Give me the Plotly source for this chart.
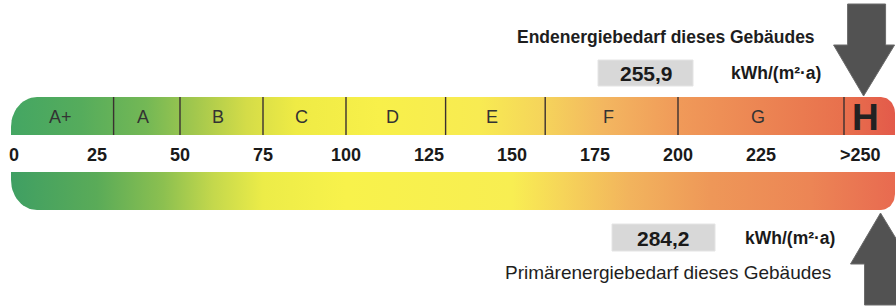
import math
import plotly.graph_objects as go

# ---------------- data ----------------
class_labels = ["A+", "A", "B", "C", "D", "E", "F", "G", "H"]
class_bounds = [0, 30, 50, 75, 100, 130, 160, 200, 250, 266]
tick_values = [0, 25, 50, 75, 100, 125, 150, 175, 200, 225, 255]
tick_labels = ["0", "25", "50", "75", "100", "125", "150", "175", "200", "225", ">250"]
end_energy = 255.9      # Endenergiebedarf
primary_energy = 284.2  # Primärenergiebedarf
unit = "kWh/(m²·a)"
end_title = "Endenergiebedarf dieses Gebäudes"
prim_title = "Primärenergiebedarf dieses Gebäudes"
scale_max_display = 261  # values beyond are drawn at the end of the scale

# ---------------- layout helpers ----------------
W, H = 896, 306
S = 3.32   # px per kWh unit
X0 = 14    # px of value 0
FONT = "Liberation Sans, Arial, sans-serif"


def v_of(px):
    return (px - X0) / S


def px_of(v):
    return X0 + v * S


def rounded_rect(x0, x1, y0, y1, tl=(0, 0), tr=(0, 0), br=(0, 0), bl=(0, 0), n=14):
    pts = []

    def arc(cx, cy, rx, ry, a0, a1):
        for i in range(n + 1):
            a = a0 + (a1 - a0) * i / n
            pts.append((cx + rx * math.cos(a), cy + ry * math.sin(a)))

    if tl[0] > 0:
        arc(x0 + tl[0], y0 + tl[1], tl[0], tl[1], math.pi, 1.5 * math.pi)
    else:
        pts.append((x0, y0))
    if tr[0] > 0:
        arc(x1 - tr[0], y0 + tr[1], tr[0], tr[1], 1.5 * math.pi, 2 * math.pi)
    else:
        pts.append((x1, y0))
    if br[0] > 0:
        arc(x1 - br[0], y1 - br[1], br[0], br[1], 0, 0.5 * math.pi)
    else:
        pts.append((x1, y1))
    if bl[0] > 0:
        arc(x0 + bl[0], y1 - bl[1], bl[0], bl[1], 0.5 * math.pi, math.pi)
    else:
        pts.append((x0, y1))
    pts.append(pts[0])
    xs = [v_of(p[0]) for p in pts]
    ys = [p[1] for p in pts]
    return xs, ys


def cs(stops, vmin, vmax):
    return [[(v - vmin) / (vmax - vmin), c] for v, c in stops]


fig = go.Figure()

bar_left, bar_right = 11, 895
vmin, vmax = v_of(bar_left), v_of(bar_right)

# top bar (Endenergie)
top_stops = [
    (vmin, "#44a663"), (20, "#55ac5c"), (40, "#74b855"), (55, "#a4c84d"),
    (70, "#d4dc48"), (85, "#efeb45"), (110, "#f8f04a"), (140, "#f8eb52"),
    (160, "#f5d35b"), (178, "#f3b660"), (200, "#f09a59"), (225, "#ec8553"),
    (250, "#e8704d"), (vmax, "#e35a4a"),
]
xs, ys = rounded_rect(bar_left, bar_right, 97, 135, tl=(26, 30), tr=(14, 16))
fig.add_trace(go.Scatter(
    x=xs, y=ys, mode="lines", fill="toself", line=dict(width=0),
    fillgradient=dict(type="horizontal", colorscale=cs(top_stops, vmin, vmax),
                      start=vmin, stop=vmax),
    hoverinfo="skip", showlegend=False))

# bottom bar (Primärenergie)
bot_stops = [
    (vmin, "#3f9f63"), (25, "#5aab58"), (45, "#8cc050"), (60, "#c4d84c"),
    (75, "#ecec48"), (100, "#f8f24b"), (150, "#f8ee52"), (165, "#f6d559"),
    (185, "#f2b45d"), (210, "#ee9758"), (240, "#ec8555"), (vmax, "#e86a50"),
]
xs, ys = rounded_rect(bar_left, bar_right, 172, 210, bl=(26, 30), br=(14, 16))
fig.add_trace(go.Scatter(
    x=xs, y=ys, mode="lines", fill="toself", line=dict(width=0),
    fillgradient=dict(type="horizontal", colorscale=cs(bot_stops, vmin, vmax),
                      start=vmin, stop=vmax),
    hoverinfo="skip", showlegend=False))

shapes = []
annotations = []

# class dividers
for b in class_bounds[1:-1]:
    shapes.append(dict(type="line", xref="x", yref="y", x0=b, x1=b, y0=97, y1=135,
                       line=dict(color="#3a3030", width=1.4)))

# class labels
for i, lab in enumerate(class_labels):
    mid = (class_bounds[i] + class_bounds[i + 1]) / 2
    if lab == "H":
        annotations.append(dict(x=mid - 1.5, y=117, xref="x", yref="y", text="<b>H</b>",
                                showarrow=False, font=dict(size=37, color="#222222", family=FONT)))
    else:
        annotations.append(dict(x=mid - 1, y=117, xref="x", yref="y", text=lab,
                                showarrow=False, font=dict(size=18, color="#333333", family=FONT)))

# tick labels
for tv, tl_ in zip(tick_values, tick_labels):
    annotations.append(dict(x=tv, y=155, xref="x", yref="y", text="<b>%s</b>" % tl_,
                            showarrow=False, font=dict(size=18, color="#1a1a1a", family=FONT)))

# titles
annotations.append(dict(x=v_of(666), y=37, xref="x", yref="y", text="<b>%s</b>" % end_title,
                        showarrow=False, font=dict(size=17.5, color="#1e1e1e", family=FONT)))
annotations.append(dict(x=v_of(668), y=272, xref="x", yref="y", text=prim_title,
                        showarrow=False, font=dict(size=19, color="#1e1e1e", family=FONT)))


def fmt(v):
    return ("%.1f" % v).replace(".", ",")


# value boxes
shapes.append(dict(type="rect", xref="x", yref="y", x0=v_of(598), x1=v_of(693), y0=60, y1=86,
                   fillcolor="#d8d8d8", line=dict(color="#e4e4e4", width=1)))
shapes.append(dict(type="rect", xref="x", yref="y", x0=v_of(612), x1=v_of(715), y0=224, y1=251,
                   fillcolor="#d8d8d8", line=dict(color="#e4e4e4", width=1)))
annotations.append(dict(x=v_of(646), y=73, xref="x", yref="y", text="<b>%s</b>" % fmt(end_energy),
                        showarrow=False, font=dict(size=21, color="#1a1a1a", family=FONT)))
annotations.append(dict(x=v_of(663), y=238, xref="x", yref="y", text="<b>%s</b>" % fmt(primary_energy),
                        showarrow=False, font=dict(size=21, color="#1a1a1a", family=FONT)))
annotations.append(dict(x=v_of(776), y=73, xref="x", yref="y", text="<b>%s</b>" % unit,
                        showarrow=False, font=dict(size=17.5, color="#1a1a1a", family=FONT)))
annotations.append(dict(x=v_of(790), y=238, xref="x", yref="y", text="<b>%s</b>" % unit,
                        showarrow=False, font=dict(size=17.5, color="#1a1a1a", family=FONT)))


# arrows (pixel offsets relative to the tip)
def arrow(tip_v, tip_y, direction):
    tx = px_of(min(tip_v, scale_max_display))
    d = direction  # +1 pointing down, -1 pointing up
    pts = [(0, 0), (-30, -51), (-16, -51), (-16, -92), (22, -92), (22, -51), (31, -51), (0, 0)]
    xs = [v_of(tx + dx) for dx, dy in pts]
    ys = [tip_y + dy * d for dx, dy in pts]
    return xs, ys


xs, ys = arrow(end_energy, 96, 1)
fig.add_trace(go.Scatter(x=xs, y=ys, mode="lines", fill="toself",
                         fillcolor="#525252", line=dict(color="#6a6a6a", width=1),
                         hoverinfo="skip", showlegend=False))
xs, ys = arrow(primary_energy, 213, -1)
fig.add_trace(go.Scatter(x=xs, y=ys, mode="lines", fill="toself",
                         fillcolor="#525252", line=dict(color="#6a6a6a", width=1),
                         hoverinfo="skip", showlegend=False))

fig.update_layout(
    width=W, height=H,
    margin=dict(l=0, r=0, t=0, b=0),
    paper_bgcolor="white", plot_bgcolor="white",
    shapes=shapes, annotations=annotations,
    xaxis=dict(range=[v_of(0), v_of(W)], visible=False, fixedrange=True),
    yaxis=dict(range=[H, 0], visible=False, fixedrange=True),
    showlegend=False,
)

fig.write_html("out.html", config={"displayModeBar": False},
               post_script="document.body.style.margin='0px';")
